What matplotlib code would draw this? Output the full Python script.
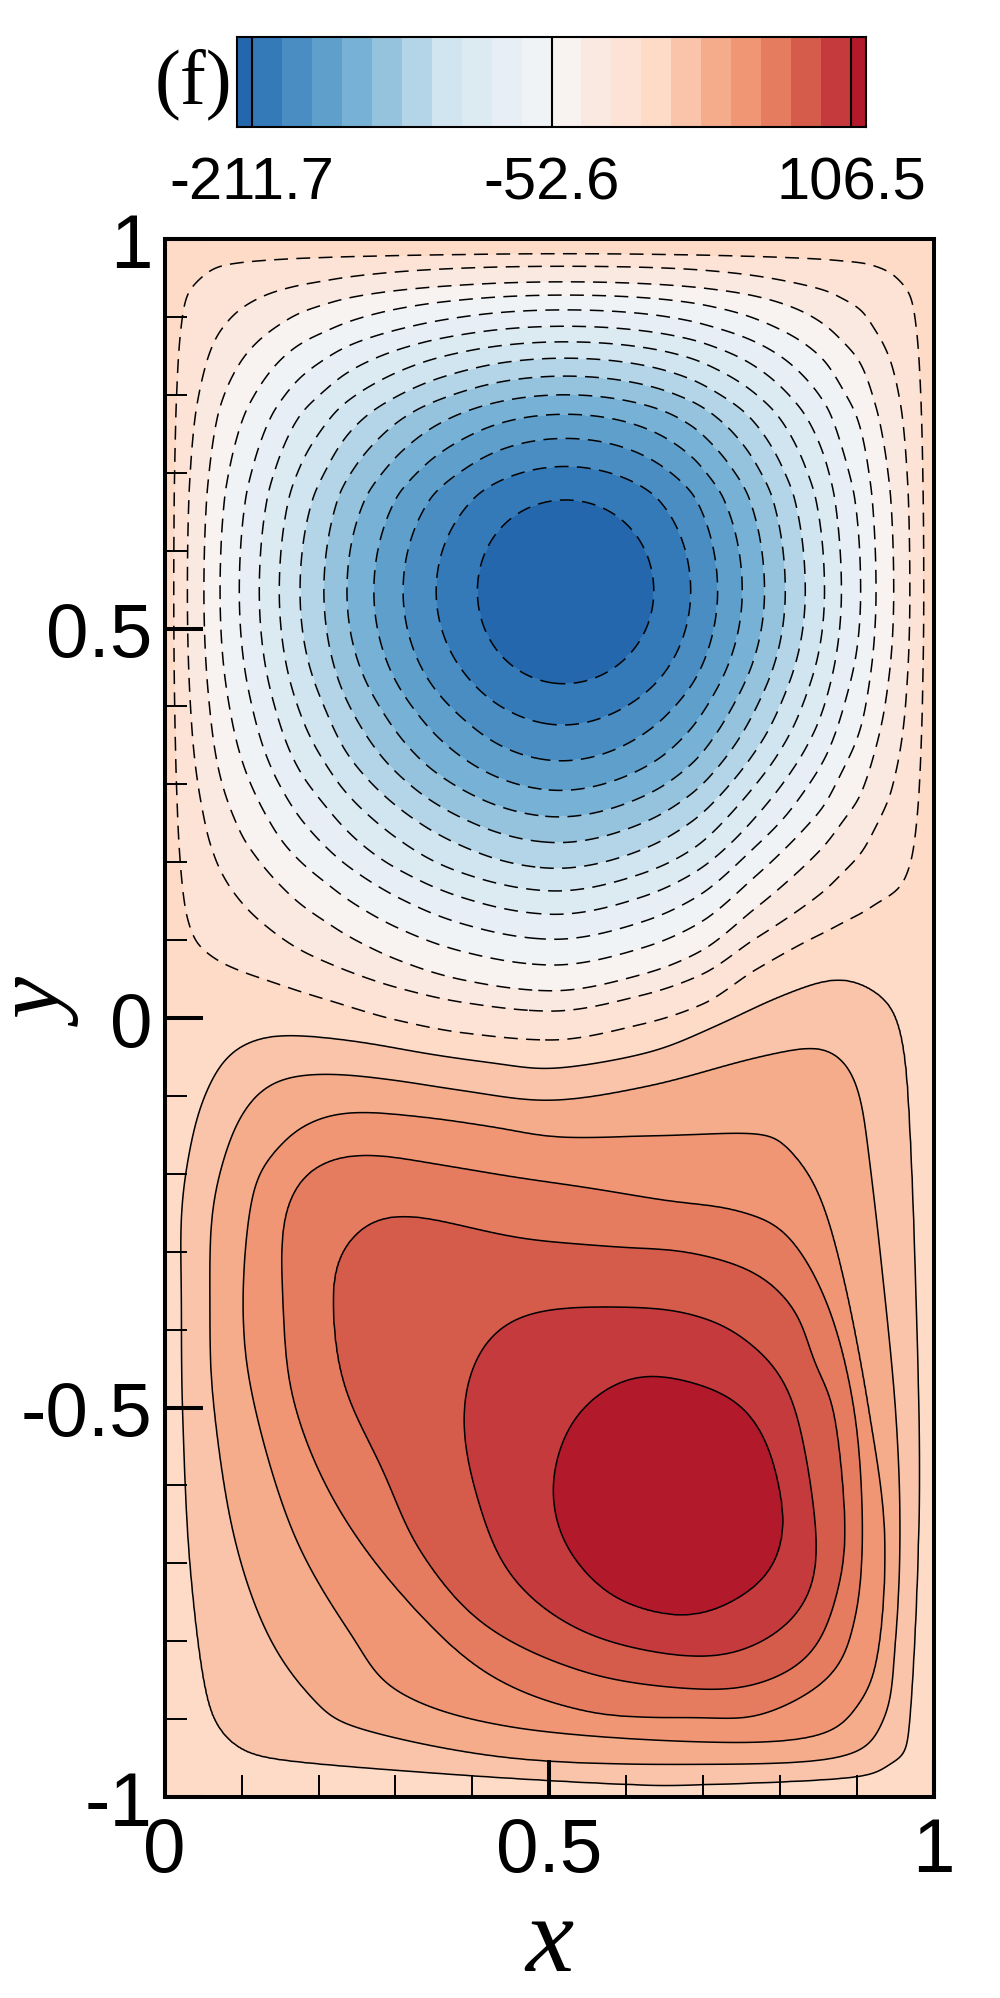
import numpy as np
import matplotlib
matplotlib.use("Agg")
import matplotlib.pyplot as plt
from matplotlib.colors import ListedColormap
from matplotlib.ticker import MultipleLocator

plt.rcParams['font.family'] = ['Liberation Sans', 'DejaVu Sans']
plt.rcParams['axes.unicode_minus'] = False
plt.rcParams['lines.scale_dashes'] = False

# ---------------- data ----------------
# contour / colour levels (step 15.91)
levels = [-211.7, -195.79, -179.88, -163.97, -148.06, -132.15, -116.24, -100.33,
          -84.42, -68.51, -52.6, -36.69, -20.78, -4.87, 11.04, 26.95, 42.86,
          58.77, 74.68, 90.59, 106.5]
band_colors = ['#2467ad', '#3479b8', '#4a8dc2', '#5e9fcb', '#77b1d5', '#95c3dd',
               '#b4d5e7', '#d1e5f0', '#dceaf2', '#e7eef5', '#f0f3f6', '#f8f3f0',
               '#f9e9e1', '#fce3d6', '#fddbc7', '#f9c4a9', '#f4ac8b', '#f09674',
               '#e57b5f', '#d55b4b', '#c43a3d', '#b2192b']
cbar_ticks = [-211.7, -52.6, 106.5]
cbar_labels = ['-211.7', '-52.6', '106.5']

# interface (zero line) between the two cells
iface_x = [0.0, 0.124, 0.21, 0.30, 0.39, 0.50, 0.62, 0.70, 0.77, 0.85, 0.93, 1.0]
iface_y = [0.035, 0.022, 0.004, -0.018, -0.033, -0.041, -0.021, 0.004, 0.047, 0.085, 0.11, 0.12]

# upper (negative) cell: centre, extreme, contour crossings (inner -> outer)
top_center = (0.521, 0.548)
top_min = -227.0
top_levels = levels[:14]
top_left_x = [0.4066, 0.353, 0.310, 0.272, 0.237, 0.207, 0.176, 0.149, 0.123, 0.097, 0.072, 0.051, 0.0295, 0.0118]
top_right_x = [0.636, 0.684, 0.719, 0.751, 0.780, 0.807, 0.833, 0.858, 0.880, 0.905, 0.925, 0.948, 0.969, 0.987]
top_up_y = [0.665, 0.708, 0.744, 0.775, 0.800, 0.824, 0.847, 0.868, 0.888, 0.909, 0.928, 0.945, 0.965, 0.981]
top_down_y = [0.429, 0.376, 0.330, 0.292, 0.258, 0.225, 0.192, 0.163, 0.133, 0.101, 0.068, 0.035, 0.009, -0.028]
top_down_at_x = 0.51

# lower (positive) cell: traced contour lines (x, y) for each level
bot_center = (0.655, -0.61)
bot_max = 118.0
bot_levels = [106.5, 90.59, 74.68, 58.77, 42.86, 26.95, 11.04]
c106_x = [0.638, 0.733, 0.779, 0.802, 0.800, 0.772, 0.690, 0.600, 0.549, 0.515, 0.506, 0.530, 0.580]
c106_y = [-0.460, -0.487, -0.540, -0.626, -0.680, -0.726, -0.766, -0.750, -0.712, -0.660, -0.593, -0.520, -0.474]
c90_x = [0.516, 0.621, 0.680, 0.746, 0.811, 0.844, 0.838, 0.779, 0.690, 0.549, 0.451, 0.405, 0.389, 0.408, 0.448]
c90_y = [-0.374, -0.373, -0.380, -0.407, -0.480, -0.639, -0.739, -0.799, -0.819, -0.789, -0.716, -0.606, -0.507, -0.430, -0.388]
c74_x = [0.287, 0.385, 0.464, 0.582, 0.680, 0.766, 0.818, 0.844, 0.870, 0.884, 0.877, 0.844, 0.779, 0.690,
         0.549, 0.418, 0.333, 0.282, 0.232, 0.219, 0.228]
c74_y = [-0.251, -0.268, -0.284, -0.294, -0.301, -0.327, -0.374, -0.440, -0.507, -0.639, -0.726, -0.810, -0.852, -0.861,
         -0.840, -0.780, -0.685, -0.575, -0.468, -0.361, -0.300]
c58_x = [0.189, 0.254, 0.352, 0.451, 0.549, 0.648, 0.746, 0.811, 0.864, 0.897, 0.907, 0.897, 0.864, 0.779, 0.690,
         0.549, 0.418, 0.306, 0.219, 0.167, 0.154, 0.156]
c58_y = [-0.195, -0.175, -0.188, -0.204, -0.218, -0.234, -0.248, -0.281, -0.374, -0.507, -0.658, -0.772, -0.845, -0.893, -0.898,
         -0.890, -0.840, -0.737, -0.617, -0.489, -0.361, -0.254]
c42_x = [0.150, 0.189, 0.245, 0.341, 0.427, 0.514, 0.648, 0.772, 0.811, 0.851, 0.884, 0.916, 0.936, 0.929, 0.903, 0.844,
         0.691, 0.451, 0.306, 0.241, 0.167, 0.115, 0.102, 0.116]
c42_y = [-0.164, -0.134, -0.121, -0.128, -0.140, -0.153, -0.151, -0.149, -0.168, -0.228, -0.341, -0.507, -0.658, -0.805, -0.880, -0.922,
         -0.929, -0.910, -0.866, -0.789, -0.660, -0.489, -0.361, -0.220]
c26_x = [0.081, 0.107, 0.146, 0.211, 0.297, 0.384, 0.501, 0.631, 0.761, 0.839, 0.869, 0.891, 0.904, 0.911, 0.930, 0.950,
         0.956, 0.950, 0.935, 0.880, 0.691, 0.451, 0.254, 0.193, 0.133, 0.089, 0.063, 0.059, 0.062]
c26_y = [-0.168, -0.113, -0.080, -0.072, -0.080, -0.093, -0.106, -0.087, -0.053, -0.038, -0.044, -0.065, -0.100, -0.143, -0.300, -0.500,
         -0.658, -0.800, -0.900, -0.948, -0.958, -0.950, -0.912, -0.874, -0.789, -0.660, -0.489, -0.361, -0.250]
c11_x = [0.033, 0.050, 0.081, 0.124, 0.167, 0.254, 0.340, 0.427, 0.507, 0.631, 0.718, 0.804, 0.882, 0.943, 0.956, 0.965,
         0.975, 0.981, 0.967, 0.947, 0.899, 0.698, 0.587, 0.364, 0.141, 0.089, 0.056, 0.033, 0.0234, 0.022, 0.022]
c11_y = [-0.168, -0.104, -0.048, -0.025, -0.022, -0.031, -0.046, -0.058, -0.065, -0.044, -0.010, 0.029, 0.051, 0.020, -0.014, -0.078,
         -0.300, -0.621, -0.919, -0.953, -0.974, -0.984, -0.983, -0.970, -0.951, -0.932, -0.877, -0.703, -0.502, -0.361, -0.250]
bot_curves = [(c106_x, c106_y), (c90_x, c90_y), (c74_x, c74_y), (c58_x, c58_y),
              (c42_x, c42_y), (c26_x, c26_y), (c11_x, c11_y)]
bot_smooth_deg = [9.0, 6.0, 3.0, 2.0, 1.5, 1.5, 1.5]


# ---------------- helpers ----------------
def pchip(xk, yk, xq, m0=None):
    xk = np.asarray(xk, float)
    yk = np.asarray(yk, float)
    h = np.diff(xk)
    d = np.diff(yk) / h
    m = np.zeros_like(xk)
    for k in range(1, len(xk) - 1):
        if d[k - 1] * d[k] > 0:
            w1 = 2 * h[k] + h[k - 1]
            w2 = h[k] + 2 * h[k - 1]
            m[k] = (w1 + w2) / (w1 / d[k - 1] + w2 / d[k])
    m[0] = d[0] if m0 is None else m0
    m[-1] = d[-1]
    xq = np.clip(xq, xk[0], xk[-1])
    i = np.clip(np.searchsorted(xk, xq) - 1, 0, len(h) - 1)
    t = (xq - xk[i]) / h[i]
    h00 = 2 * t**3 - 3 * t**2 + 1
    h10 = t**3 - 2 * t**2 + t
    h01 = -2 * t**3 + 3 * t**2
    h11 = t**3 - t**2
    return h00 * yk[i] + h10 * h[i] * m[i] + h01 * yk[i + 1] + h11 * h[i] * m[i + 1]


def side(positions, center, wall, lev, peak):
    rho = np.abs(np.asarray(positions) - center) / abs(wall - center)
    f = np.asarray(lev) / peak
    return np.r_[rho, 1.0], np.r_[f, 0.0]


def prof(tab, q):
    rho, f = tab
    r1, f1 = rho[0], f[0]
    q = np.clip(q, 0.0, 1.0)
    core = 1.0 - (1.0 - f1) * (q / r1) ** 2
    outer = pchip(rho, f, q, m0=-2.0 * (1.0 - f1) / r1)
    return np.where(q < r1, core, outer)


def y0(x):
    return pchip(iface_x, iface_y, x)


NT = 1440
thg = -np.pi + 2 * np.pi * np.arange(NT) / NT


def closed_spline(px, py, n=50):
    """periodic Catmull-Rom curve through the traced points"""
    P = np.stack([px, py], 1)
    N = len(P)
    t = np.linspace(0, 1, n, endpoint=False)[:, None]
    h00 = 2 * t**3 - 3 * t**2 + 1
    h10 = t**3 - 2 * t**2 + t
    h01 = -2 * t**3 + 3 * t**2
    h11 = t**3 - t**2
    out = []
    for i in range(N):
        p0, p1, p2, p3 = P[i - 1], P[i], P[(i + 1) % N], P[(i + 2) % N]
        m1 = 0.5 * (p2 - p0)
        m2 = 0.5 * (p3 - p1)
        out.append(h00 * p1 + h10 * m1 + h01 * p2 + h11 * m2)
    out = np.concatenate(out)
    return out[:, 0], out[:, 1]


def radius_of_curve(cx_, cy_, c, sigma_deg):
    px = np.asarray(cx_, float)
    py = np.asarray(cy_, float)
    ang = np.arctan2(py - c[1], px - c[0])
    o = np.argsort(ang)
    dx, dy = closed_spline(px[o], py[o])
    a = np.arctan2(dy - c[1], dx - c[0])
    r = np.hypot(dx - c[0], dy - c[1])
    o = np.argsort(a)
    a, r = a[o], r[o]
    a_ext = np.r_[a - 2 * np.pi, a, a + 2 * np.pi]
    r_ext = np.r_[r, r, r]
    R = np.interp(thg, a_ext, r_ext)
    k = np.arange(NT)
    dist = np.minimum(k, NT - k) * 360.0 / NT
    ker = np.exp(-0.5 * (dist / sigma_deg) ** 2)
    ker /= ker.sum()
    return np.real(np.fft.ifft(np.fft.fft(R) * np.fft.fft(ker)))


# ---------------- field ----------------
x = np.linspace(0, 1, 501)
y = np.linspace(-1, 1, 1001)
X, Y = np.meshgrid(x, y)
Y0 = y0(X)

# upper cell (separable profiles through the centre)
xc, yc = top_center
tL = side(top_left_x, xc, 0.0, top_levels, top_min)
tR = side(top_right_x, xc, 1.0, top_levels, top_min)
tU = side(top_up_y, yc, 1.0, top_levels, top_min)
tD = side(top_down_y, yc, float(y0(top_down_at_x)), top_levels, top_min)
FT = np.where(X < xc, prof(tL, (xc - X) / xc), prof(tR, (X - xc) / (1 - xc)))
GT = np.where(Y >= yc, prof(tU, (Y - yc) / (1 - yc)),
              prof(tD, (yc - Y) / np.maximum(yc - Y0, 1e-6)))
psi_top = top_min * FT * GT

# lower cell (radial interpolation between traced contour lines)
Rk = np.array([radius_of_curve(cx_, cy_, bot_center, s)
               for (cx_, cy_), s in zip(bot_curves, bot_smooth_deg)])
for k in range(1, len(Rk)):
    Rk[k] = np.maximum(Rk[k], Rk[k - 1] + 2e-3)
TH = np.arctan2(Y - bot_center[1], X - bot_center[0])
pos_f = (TH + np.pi) / (2 * np.pi) * NT
i0 = np.floor(pos_f).astype(int) % NT
i1 = (i0 + 1) % NT
wgt = pos_f - np.floor(pos_f)
Rg = Rk[:, i0] * (1 - wgt) + Rk[:, i1] * wgt
RR = np.hypot(X - bot_center[0], Y - bot_center[1])
L = bot_levels
psi_bot = L[-1] * np.exp(-(RR - Rg[-1]) / 0.03)
for k in range(len(L) - 1, 0, -1):
    seg = L[k - 1] + (L[k] - L[k - 1]) * (RR - Rg[k - 1]) / (Rg[k] - Rg[k - 1])
    psi_bot = np.where(RR < Rg[k], seg, psi_bot)
core = bot_max - (bot_max - L[0]) * (RR / Rg[0]) ** 2
psi_bot = np.where(RR < Rg[0], core, psi_bot)

psi = np.where(Y >= Y0, psi_top, psi_bot)

# ---------------- figure ----------------
W, H = 1000, 1999
fig = plt.figure(figsize=(W / 100, H / 100), dpi=100)


def box(x0, y0_, x1, y1):
    return [x0 / W, 1 - y1 / H, (x1 - x0) / W, (y1 - y0_) / H]


ax = fig.add_axes(box(164.7, 240, 933.7, 1798))
fill_levels = [-1e4] + levels + [1e4]
ax.contourf(X, Y, psi, levels=fill_levels, colors=band_colors)
neg = [l for l in levels if l < 0]
pos = [l for l in levels if l > 0]
ax.contour(X, Y, psi, levels=neg, colors='k', linewidths=1.1,
           linestyles=[(0, (10, 6))])
ax.contour(X, Y, psi, levels=pos, colors='k', linewidths=1.1, linestyles='solid')

ax.set_xlim(0, 1)
ax.set_ylim(-1, 1)
ax.set_xticks([0, 0.5, 1], labels=['0', '0.5', '1'])
ax.set_yticks([-1, -0.5, 0, 0.5, 1], labels=['-1', '-0.5', '0', '0.5', '1'])
ax.xaxis.set_minor_locator(MultipleLocator(0.1))
ax.yaxis.set_minor_locator(MultipleLocator(0.1))
ax.tick_params(which='major', direction='in', length=27, width=2.9,
               top=False, right=False, labelsize=55, pad=9)
ax.tick_params(which='minor', direction='in', length=16, width=1.4,
               top=False, right=False)
ax.tick_params(axis='x', which='major', pad=14)
for s in ax.spines.values():
    s.set_linewidth(2.9)
    s.set_zorder(10)

# axis labels
fig.text(549 / W, 1 - 1971 / H, 'x', ha='center', va='baseline', fontsize=78,
         family='Liberation Serif', style='italic')
fig.text(44 / W, 1 - 1005 / H, 'y', ha='center', va='center', rotation=90,
         fontsize=68, family='Liberation Serif', style='italic')

# colour bar
cax = fig.add_axes(box(237, 38.3, 866, 128.3))
step = levels[1] - levels[0]
bounds = np.array([levels[0] - 0.5 * step] + levels + [levels[-1] + 0.5 * step])
cax.pcolormesh(bounds, [0, 1], np.arange(len(band_colors)).reshape(1, -1),
               cmap=ListedColormap(band_colors), shading='flat')
for t in cbar_ticks:
    cax.axvline(t, color='k', lw=1.5)
cax.set_xlim(bounds[0], bounds[-1])
cax.set_ylim(0, 1)
cax.set_yticks([])
cax.set_xticks(cbar_ticks, labels=cbar_labels)
cax.tick_params(axis='x', length=0, pad=20, labelsize=43)
for s in cax.spines.values():
    s.set_linewidth(1.5)
fig.text(232 / W, 1 - 84 / H, '(f)', ha='right', va='center', fontsize=56,
         family='Liberation Serif')

fig.savefig('out.png', dpi=100)
